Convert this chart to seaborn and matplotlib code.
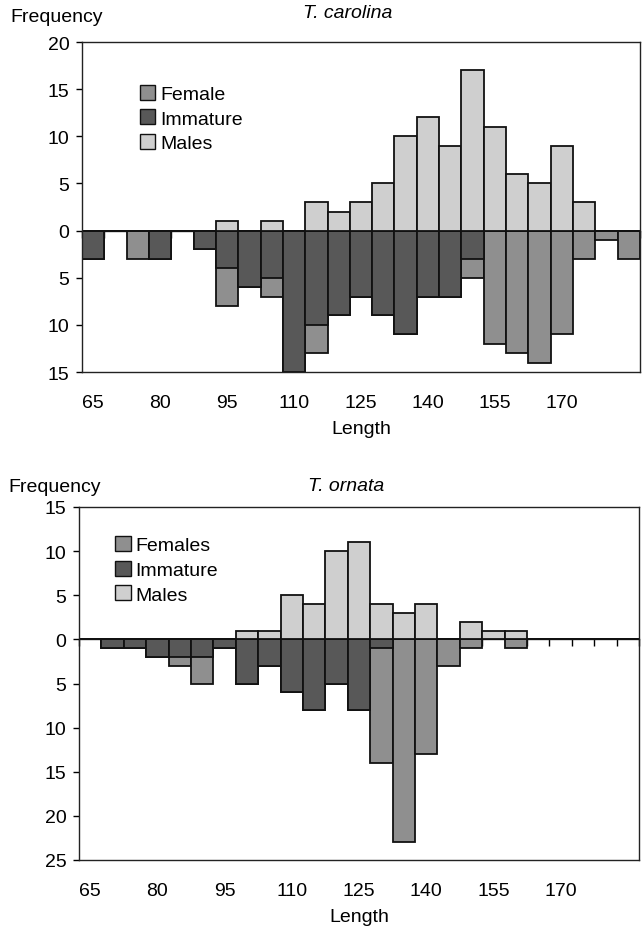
import numpy as np
import pandas as pd
import matplotlib
matplotlib.use("Agg")
import matplotlib.pyplot as plt
from matplotlib.patches import Patch
import seaborn as sns

# ---------------------------------------------------------------------------
# DATA (size classes, counts per class)
# ---------------------------------------------------------------------------
lengths = list(range(65, 190, 5))
tick_labels = ["65", "80", "95", "110", "125", "140", "155", "170"]

# T. carolina
car_males = [0, 0, 0, 0, 0, 0, 1, 0, 1, 0, 3, 2, 3, 5, 10, 12, 9, 17, 11, 6, 5, 9, 3, 0, 0]
car_immature = [3, 0, 0, 3, 0, 2, 4, 6, 5, 15, 10, 9, 7, 9, 11, 7, 7, 3, 0, 0, 0, 0, 0, 0, 0]
car_female = [0, 0, 3, 0, 0, 0, 4, 0, 2, 0, 3, 0, 0, 0, 0, 0, 0, 2, 12, 13, 14, 11, 3, 1, 3]

# T. ornata
orn_males = [0, 0, 0, 0, 0, 0, 0, 1, 1, 5, 4, 10, 11, 4, 3, 4, 0, 2, 1, 1, 0, 0, 0, 0, 0]
orn_immature = [0, 1, 1, 2, 2, 2, 1, 5, 3, 6, 8, 5, 8, 1, 0, 0, 0, 0, 0, 0, 0, 0, 0, 0, 0]
orn_female = [0, 0, 0, 0, 1, 3, 0, 0, 0, 0, 0, 0, 0, 13, 23, 13, 3, 1, 0, 1, 0, 0, 0, 0, 0]

# ---------------------------------------------------------------------------
# STYLE
# ---------------------------------------------------------------------------
sns.set_style("ticks")
plt.rcParams["font.family"] = ["Liberation Sans", "DejaVu Sans"]
plt.rcParams["font.size"] = 14
plt.rcParams["text.color"] = "black"
plt.rcParams["axes.labelcolor"] = "black"
plt.rcParams["xtick.color"] = "black"
plt.rcParams["ytick.color"] = "black"

C_MALE = "#cfcfcf"
C_FEMALE = "#8f8f8f"
C_IMM = "#585858"
EDGE = "#111111"
FS = 14

fig = plt.figure(figsize=(6.42, 9.29), dpi=100)
ax_top = fig.add_axes([82 / 642, 1 - 373 / 929, 558 / 642, 330 / 929])
ax_bot = fig.add_axes([79 / 642, 1 - 861 / 929, 560 / 642, 353 / 929])


def draw_panel(ax, males, immature, female, ylim, names, legend_xy):
    df = pd.DataFrame({
        "length": lengths,
        "males": males,
        "immature": -np.array(immature),
        "lower": -(np.array(immature) + np.array(female)),
    })
    kw = dict(width=1.0, edgecolor=EDGE, linewidth=1.3, errorbar=None, ax=ax)
    sns.barplot(data=df, x="length", y="lower", color=C_FEMALE, saturation=1, **kw)
    sns.barplot(data=df, x="length", y="immature", color=C_IMM, saturation=1, **kw)
    sns.barplot(data=df, x="length", y="males", color=C_MALE, saturation=1, **kw)

    ax.set_xlim(-0.5, len(lengths) - 0.5)
    ax.set_ylim(*ylim)
    yt = np.arange(ylim[0], ylim[1] + 1, 5)
    ax.set_yticks(yt)
    ax.set_yticklabels([str(abs(v)) for v in yt], fontsize=FS)
    ax.set_xticks(np.arange(0, len(lengths), 3)[: len(tick_labels)])
    ax.set_xticklabels(tick_labels, fontsize=FS)
    ax.tick_params(axis="x", length=0, pad=16)
    ax.tick_params(axis="y", length=4, width=1, direction="out", pad=5)
    ax.set_xlabel("Length", labelpad=6, fontsize=FS)
    ax.set_ylabel("")
    for sp in ax.spines.values():
        sp.set_visible(True)
        sp.set_linewidth(1.0)
        sp.set_color("#222222")

    # category axis crossing at zero with ticks between classes
    sec = ax.secondary_xaxis(0, transform=ax.transData)
    sec.set_alignment("bottom")
    sec.set_xticks(np.arange(len(lengths) + 1) - 0.5)
    sec.tick_params(axis="x", length=5, width=1, direction="out", labelbottom=False)
    sec.spines["bottom"].set_linewidth(1.0)
    sec.spines["bottom"].set_color("#333333")

    handles = [Patch(facecolor=C_FEMALE, edgecolor=EDGE),
               Patch(facecolor=C_IMM, edgecolor=EDGE),
               Patch(facecolor=C_MALE, edgecolor=EDGE)]
    ax.legend(handles, names, loc="upper left", bbox_to_anchor=legend_xy,
              frameon=False, borderpad=0, handlelength=0.8, handleheight=0.8,
              handletextpad=0.25, labelspacing=0.33, fontsize=FS)


draw_panel(ax_top, car_males, car_immature, car_female, (-15, 20),
           ["Female", "Immature", "Males"], (0.086, 0.9))
draw_panel(ax_bot, orn_males, orn_immature, orn_female, (-25, 15),
           ["Females", "Immature", "Males"], (0.047, 0.945))

fig.text(10 / 642, 1 - 17 / 929, "Frequency", ha="left", va="center", fontsize=FS)
fig.text(348 / 642, 1 - 14 / 929, "T. carolina", ha="center", va="center",
         fontsize=FS, style="italic")
fig.text(8 / 642, 1 - 488 / 929, "Frequency", ha="left", va="center", fontsize=FS)
fig.text(346 / 642, 1 - 487 / 929, "T. ornata", ha="center", va="center",
         fontsize=FS, style="italic")

fig.savefig("out.png", dpi=100)
